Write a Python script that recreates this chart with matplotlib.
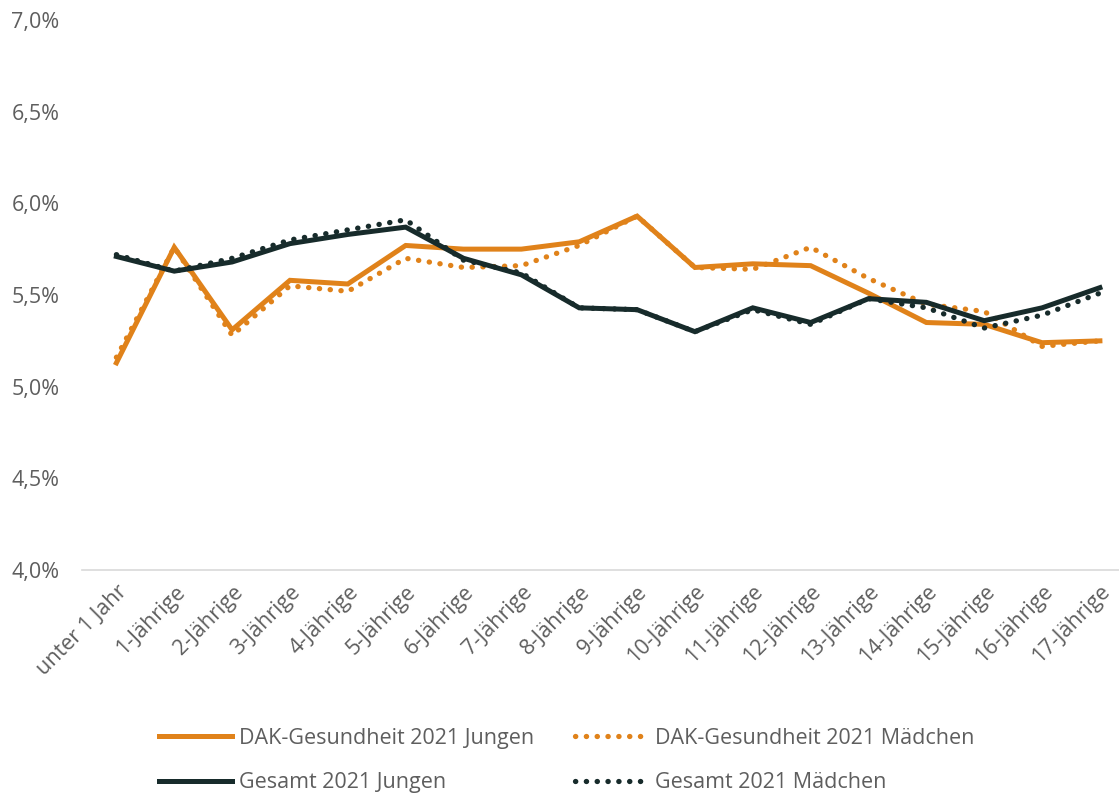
import matplotlib
matplotlib.use("Agg")
import matplotlib.pyplot as plt
from matplotlib.ticker import FuncFormatter

plt.rcParams['font.family'] = ['Open Sans', 'DejaVu Sans']

categories = ['unter 1 Jahr'] + ['%d-Jährige' % i for i in range(1, 18)]

dak_jungen = [5.13, 5.76, 5.31, 5.58, 5.56, 5.77, 5.75, 5.75, 5.79, 5.93,
              5.65, 5.67, 5.66, 5.51, 5.35, 5.34, 5.24, 5.25]
dak_maedchen = [5.16, 5.76, 5.28, 5.55, 5.52, 5.70, 5.65, 5.66, 5.77, 5.93,
                5.65, 5.64, 5.76, 5.59, 5.45, 5.41, 5.22, 5.25]
ges_jungen = [5.71, 5.63, 5.68, 5.78, 5.83, 5.87, 5.70, 5.61, 5.43, 5.42,
              5.30, 5.43, 5.35, 5.48, 5.46, 5.36, 5.43, 5.54]
ges_maedchen = [5.72, 5.63, 5.70, 5.80, 5.855, 5.91, 5.69, 5.62, 5.43, 5.42,
                5.30, 5.42, 5.34, 5.48, 5.43, 5.32, 5.39, 5.51]

orange = '#E0821A'
dark = '#172B2B'
grey = '#5E5E5E'

fig = plt.figure(figsize=(11.19, 7.93), dpi=100)
ax = fig.add_axes([0.073, 0.281, 0.927, 0.694])

x = range(len(categories))
dot = (0, (0.05, 2.0))
l1, = ax.plot(x, dak_jungen, color=orange, lw=3.6, solid_joinstyle='miter',
              label='DAK-Gesundheit 2021 Jungen', zorder=3)
l2, = ax.plot(x, dak_maedchen, color=orange, lw=3.8, linestyle=dot,
              dash_capstyle='round', label='DAK-Gesundheit 2021 Mädchen', zorder=3)
l3, = ax.plot(x, ges_jungen, color=dark, lw=3.6, solid_joinstyle='miter',
              label='Gesamt 2021 Jungen', zorder=3)
l4, = ax.plot(x, ges_maedchen, color=dark, lw=3.8, linestyle=dot,
              dash_capstyle='round', label='Gesamt 2021 Mädchen', zorder=3)

ax.set_ylim(4.0, 7.0)
ax.set_yticks([4.0, 4.5, 5.0, 5.5, 6.0, 6.5, 7.0])
ax.yaxis.set_major_formatter(FuncFormatter(lambda v, p: ('%.1f%%' % v).replace('.', ',')))
ax.set_xlim(-0.6, 17.33)
ax.set_xticks(list(x))
ax.set_xticklabels(categories, rotation=45, ha='right', rotation_mode='anchor')

for s in ['top', 'right', 'left']:
    ax.spines[s].set_visible(False)
ax.spines['bottom'].set_color('#D9D9D9')
ax.spines['bottom'].set_linewidth(1.2)
ax.tick_params(axis='both', length=0, labelsize=15.5, labelcolor=grey)
ax.tick_params(axis='y', pad=16)
ax.tick_params(axis='x', pad=8)

fig.legend([l1, l3, l2, l4], [l.get_label() for l in (l1, l3, l2, l4)],
           loc='lower left', bbox_to_anchor=(0.125, -0.025), ncol=2,
           frameon=False, fontsize=15.5, labelcolor=grey, handlelength=3.4,
           handletextpad=0.3, columnspacing=1.9, labelspacing=1.1)

fig.savefig('out.png', dpi=100)
